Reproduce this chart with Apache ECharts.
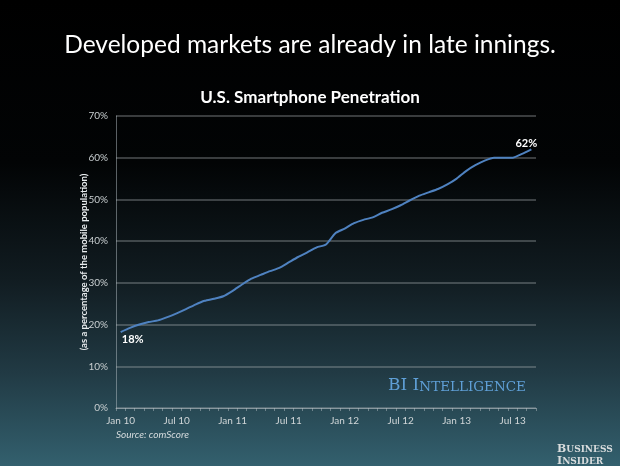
<!DOCTYPE html>
<html><head><meta charset="utf-8">
<script src="https://cdn.jsdelivr.net/npm/echarts@6/dist/echarts.min.js"></script>
<style>html,body{margin:0;padding:0;background:#000}#c{width:620px;height:466px}</style>
</head><body><div id="c"></div>
<script>
const months = ["Jan 10","Feb 10","Mar 10","Apr 10","May 10","Jun 10","Jul 10","Aug 10","Sep 10","Oct 10","Nov 10","Dec 10",
"Jan 11","Feb 11","Mar 11","Apr 11","May 11","Jun 11","Jul 11","Aug 11","Sep 11","Oct 11","Nov 11","Dec 11",
"Jan 12","Feb 12","Mar 12","Apr 12","May 12","Jun 12","Jul 12","Aug 12","Sep 12","Oct 12","Nov 12","Dec 12",
"Jan 13","Feb 13","Mar 13","Apr 13","May 13","Jun 13","Jul 13","Aug 13","Sep 13"];
const penetration = [18.2,19.2,20.0,20.6,21.0,21.8,22.7,23.7,24.8,25.7,26.2,26.8,
28.1,29.6,31.0,31.9,32.8,33.6,34.9,36.2,37.3,38.5,39.2,41.9,
43.0,44.3,45.1,45.7,46.8,47.6,48.6,49.8,50.9,51.7,52.5,53.6,
55.0,56.8,58.2,59.3,60.0,60.0,60.0,60.9,62.0];
const yTicks = [0,10,20,30,40,50,60,70];
const labelText = {0: "18%", 44: "62%"};

const chart = echarts.init(document.getElementById('c'), null, {renderer:'canvas'});
const FONT = 'Lato, "Open Sans", sans-serif';
const SERIF = '"DejaVu Serif", "Liberation Serif", serif';
const data = penetration.map((v,i) => {
  if (labelText[i] !== undefined) {
    return {value: v, label: {show: true, formatter: labelText[i],
      position: i === 0 ? 'bottom' : 'top', offset: i === 0 ? [12,-3] : [-5,5],
      color: '#ffffff', fontWeight: 'bold', fontSize: 11, fontFamily: FONT}};
  }
  return v;
});
chart.setOption({
  backgroundColor: new echarts.graphic.LinearGradient(0,0,0,1,[
    {offset:0,color:'#000000'},{offset:0.35,color:'#020405'},{offset:0.6,color:'#111c21'},
    {offset:0.8,color:'#213a44'},{offset:1,color:'#33606e'}]),
  animation: false,
  title: [
    {text: 'Developed markets are already in late innings.', left: 'center', top: 28,
     textStyle: {color:'#ffffff', fontSize: 24.5, fontWeight: 'normal', fontFamily: FONT}},
    {text: 'U.S. Smartphone Penetration', left: 'center', top: 84,
     textStyle: {color:'#ffffff', fontSize: 17, fontWeight: 'bold', fontFamily: FONT}}
  ],
  grid: {left: 116, right: 84, top: 116, bottom: 58},
  xAxis: {
    type: 'category', data: months, boundaryGap: true,
    axisLine: {lineStyle: {color: 'rgba(180,190,195,0.55)', width: 1}},
    axisTick: {show: true, interval: 0, length: 3, lineStyle: {color: 'rgba(180,190,195,0.5)'}},
    axisLabel: {interval: (i) => i % 6 === 0, color: '#d0d6d8', fontSize: 10, fontFamily: FONT, margin: 8},
    splitLine: {show: false}
  },
  yAxis: {
    type: 'value', min: 0, max: 70, interval: 10,
    name: '(as a percentage of the mobile population)', nameLocation: 'middle', nameGap: 27.5,
    nameMoveOverlap: false,
    nameTextStyle: {color: '#e8ecee', fontSize: 9.5, fontWeight: 'bold', fontFamily: FONT},
    axisLine: {show: true, lineStyle: {color: 'rgba(180,190,195,0.5)'}},
    axisTick: {show: false},
    axisLabel: {formatter: (v) => yTicks.includes(v) ? v + '%' : '', color: '#c8ced0', fontSize: 10, fontFamily: FONT, margin: 8},
    splitLine: {lineStyle: {color: 'rgba(170,175,178,0.45)', width: 1.5}}
  },
  series: [{
    type: 'line', data: data, symbol: 'circle', symbolSize: 0, showSymbol: true, smooth: 0.2,
    itemStyle: {color: '#4f82c0'},
    lineStyle: {color: '#4f82c0', width: 2},
    label: {show: false}
  }],
  graphic: [
    {type: 'text', left: 388, top: 377, style: {
      text: '{b|BI I}{s|NTELLIGENCE}', fill: '#5f9fd6',
      rich: {b: {fontSize: 17, fontFamily: SERIF, fill: '#5f9fd6', verticalAlign: 'bottom'},
             s: {fontSize: 13.5, fontFamily: SERIF, fill: '#5f9fd6', verticalAlign: 'bottom'}}}},
    {type: 'text', left: 116, top: 430, style: {text: 'Source: comScore', fill: '#d6dcde',
      font: 'italic 10px Lato, "Open Sans", sans-serif'}},
    {type: 'text', left: 557, top: 444, style: {
      text: '{b|B}{s|USINESS}\n{b|I}{s|NSIDER}', fill: '#d8dcdd',
      rich: {b: {fontSize: 11, fontFamily: SERIF, fill: '#d8dcdd', lineHeight: 12, fontWeight: 'bold'},
             s: {fontSize: 9, fontFamily: SERIF, fill: '#d8dcdd', lineHeight: 12, fontWeight: 'bold'}}}}
  ]
});
</script></body></html>
